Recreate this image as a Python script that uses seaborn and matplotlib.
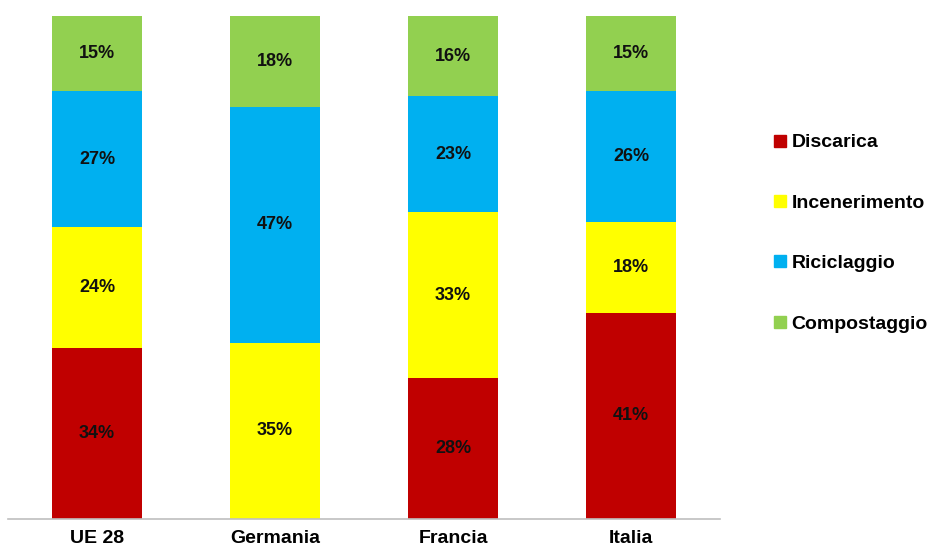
import matplotlib
matplotlib.use("Agg")
import matplotlib.pyplot as plt
import seaborn as sns
import pandas as pd
import numpy as np
from matplotlib.lines import Line2D

countries = ["UE 28", "Germania", "Francia", "Italia"]
categories = ["Discarica", "Incenerimento", "Riciclaggio", "Compostaggio"]
discarica = [34, 0, 28, 41]
incenerimento = [24, 35, 33, 18]
riciclaggio = [27, 47, 23, 26]
compostaggio = [15, 18, 16, 15]
colors = ["#C00000", "#FFFF00", "#00B0F0", "#92D050"]

sns.set_style("white")
plt.rcParams["font.family"] = ["Liberation Sans", "DejaVu Sans"]

series = [discarica, incenerimento, riciclaggio, compostaggio]
cum = np.cumsum(np.array(series, dtype=float), axis=0)

fig = plt.figure(figsize=(9.38, 5.49), dpi=100)
ax = fig.add_axes([8/938, 1 - 519/549, (720 - 8)/938, (519 - 16)/549])

# draw cumulative layers from top to bottom so each overlays the previous
for i in range(len(categories) - 1, -1, -1):
    df = pd.DataFrame({"paese": countries, "valore": cum[i]})
    sns.barplot(data=df, x="paese", y="valore", color=colors[i], width=0.505,
                saturation=1, ax=ax, linewidth=0, edgecolor="none")

for i, vals in enumerate(series):
    for j, v in enumerate(vals):
        if v > 0:
            center = cum[i][j] - v / 2
            ax.text(j, center, f"{v}%", ha="center", va="center",
                    fontsize=13, fontweight="bold", color="#111111")

ax.set_xlim(-0.5, 3.5)
ax.set_ylim(0, 100)
ax.set_xlabel("")
ax.set_ylabel("")
ax.set_yticks([])
for s in ["top", "right", "left"]:
    ax.spines[s].set_visible(False)
ax.spines["bottom"].set_color("#bfbfbf")
ax.spines["bottom"].set_linewidth(1.2)
ax.tick_params(axis="x", length=0, pad=8)
for lbl in ax.get_xticklabels():
    lbl.set_fontsize(14)
    lbl.set_fontweight("bold")
    lbl.set_color("black")

handles = [Line2D([0], [0], marker="s", linestyle="none", markersize=8,
                  markerfacecolor=c, markeredgecolor=c) for c in colors]
leg = fig.legend(handles, categories, loc="upper left",
                 bbox_to_anchor=(766/938, 1 - 126/549), frameon=False,
                 prop={"size": 14, "weight": "bold"}, labelspacing=2.2,
                 handlelength=0.6, handletextpad=0.3, borderaxespad=0)
for t in leg.get_texts():
    t.set_color("black")

fig.savefig("out.png", dpi=100)
